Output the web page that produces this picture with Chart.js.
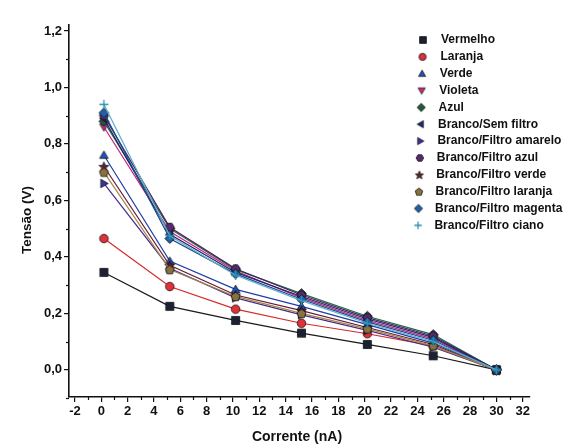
<!DOCTYPE html>
<html>
<head>
<meta charset="utf-8">
<script src="https://cdn.jsdelivr.net/npm/chart.js@4.4.0/dist/chart.umd.min.js"></script>
<style>
html,body{margin:0;padding:0;background:#fff;}
#wrap{width:580px;height:447px;position:relative;}
</style>
</head>
<body>
<div id="wrap"><canvas id="c" width="580" height="447"></canvas></div>
<script>
// ---- data ----
const correntes = [0.2, 5.2, 10.2, 15.2, 20.2, 25.2, 30.0];
const seriesNames = ["Vermelho","Laranja","Verde","Violeta","Azul","Branco/Sem filtro","Branco/Filtro amarelo","Branco/Filtro azul","Branco/Filtro verde","Branco/Filtro laranja","Branco/Filtro magenta","Branco/Filtro ciano"];
const vermelho      = [0.345, 0.225, 0.175, 0.130, 0.090, 0.050, 0.0];
const laranja       = [0.465, 0.295, 0.215, 0.165, 0.128, 0.085, 0.0];
const verde         = [0.760, 0.385, 0.285, 0.225, 0.160, 0.095, 0.0];
const violeta       = [0.860, 0.490, 0.350, 0.255, 0.175, 0.110, 0.0];
const azul          = [0.880, 0.500, 0.355, 0.270, 0.190, 0.125, 0.0];
const brancoSem     = [0.890, 0.480, 0.345, 0.260, 0.180, 0.115, 0.0];
const filtroAmarelo = [0.660, 0.360, 0.255, 0.195, 0.140, 0.080, 0.0];
const filtroAzul    = [0.900, 0.505, 0.358, 0.265, 0.185, 0.120, 0.0];
const filtroVerde   = [0.720, 0.370, 0.265, 0.210, 0.150, 0.090, 0.0];
const filtroLaranja = [0.700, 0.355, 0.260, 0.200, 0.145, 0.085, 0.0];
const filtroMagenta = [0.910, 0.465, 0.340, 0.250, 0.170, 0.105, 0.0];
const filtroCiano   = [0.940, 0.475, 0.335, 0.245, 0.165, 0.100, 0.0];
const seriesValues = [vermelho, laranja, verde, violeta, azul, brancoSem, filtroAmarelo, filtroAzul, filtroVerde, filtroLaranja, filtroMagenta, filtroCiano];
const xTicks = [-2,0,2,4,6,8,10,12,14,16,18,20,22,24,26,28,30,32];
const yTicks = [0.0,0.2,0.4,0.6,0.8,1.0,1.2];

// ---- styles ----
const lineColors = ['#1a1a1a','#d42a2a','#1f3fa8','#c8207a','#1d6b40','#1a2470','#4a2a90','#4a2060','#6a1a30','#a08848','#1a4a90','#60b0cc'];
const fillColors = ['#1c2033','#e0303a','#2050c0','#d02a80','#1f5a3a','#1a2a70','#3a30a0','#5a2a70','#6a2030','#8a7040','#2060a8','#3090b0'];
const shapes = ['square','circle','triUp','triDown','diamond','triLeft','triRight','hexagon','star','pentagon','diamond','plus'];

function poly(ctx, cx, cy, r, n, rot){
  ctx.beginPath();
  for(let i=0;i<n;i++){
    const a = rot + i*2*Math.PI/n;
    const px = cx + r*Math.cos(a), py = cy + r*Math.sin(a);
    if(i===0) ctx.moveTo(px,py); else ctx.lineTo(px,py);
  }
  ctx.closePath();
}
function makeMarker(shape, fill, size){
  const s = Math.ceil(size)+4;
  const cv = document.createElement('canvas');
  cv.width = s; cv.height = s;
  const ctx = cv.getContext('2d');
  const c = s/2, r = size/2;
  ctx.fillStyle = fill; ctx.strokeStyle = '#111'; ctx.lineWidth = 0.8;
  switch(shape){
    case 'square': ctx.beginPath(); ctx.rect(c-r*0.9,c-r*0.9,r*1.8,r*1.8); break;
    case 'circle': ctx.beginPath(); ctx.arc(c,c,r*0.95,0,Math.PI*2); break;
    case 'triUp': poly(ctx,c,c+r*0.15,r*1.1,3,-Math.PI/2); break;
    case 'triDown': poly(ctx,c,c-r*0.15,r*1.1,3,Math.PI/2); break;
    case 'triLeft': poly(ctx,c+r*0.15,c,r*1.1,3,Math.PI); break;
    case 'triRight': poly(ctx,c-r*0.15,c,r*1.1,3,0); break;
    case 'diamond': poly(ctx,c,c,r*1.1,4,-Math.PI/2); break;
    case 'hexagon': poly(ctx,c,c,r,6,0); break;
    case 'pentagon': poly(ctx,c,c+r*0.1,r*1.05,5,-Math.PI/2); break;
    case 'star': {
      ctx.beginPath();
      for(let i=0;i<10;i++){
        const a = -Math.PI/2 + i*Math.PI/5;
        const rr = i%2===0 ? r*1.15 : r*0.48;
        const px = c + rr*Math.cos(a), py = c + 0.5 + rr*Math.sin(a);
        if(i===0) ctx.moveTo(px,py); else ctx.lineTo(px,py);
      }
      ctx.closePath(); break;
    }
    case 'plus':
      ctx.strokeStyle = fill; ctx.lineWidth = 1.3;
      ctx.beginPath(); ctx.moveTo(c-r,c); ctx.lineTo(c+r,c); ctx.moveTo(c,c-r); ctx.lineTo(c,c+r); ctx.stroke();
      return cv;
  }
  ctx.fill(); ctx.stroke();
  return cv;
}
const plotMarkers = shapes.map((s,i)=>makeMarker(s, fillColors[i], 9));
const legendMarkers = shapes.map((s,i)=>makeMarker(s, fillColors[i], 7.5));

const datasets = seriesNames.map((name,i)=>({
  label: name,
  data: correntes.map((x,j)=>({x:x, y:seriesValues[i][j]})),
  borderColor: lineColors[i],
  backgroundColor: fillColors[i],
  borderWidth: 1.2,
  pointStyle: plotMarkers[i],
  pointRadius: 4.5,
  order: seriesNames.length - i,
  tension: 0
}));

const FONT = "'Liberation Sans', Arial, sans-serif";

const decoPlugin = {
  id: 'deco',
  afterDraw(chart){
    const ctx = chart.ctx;
    const xs = chart.scales.x, ys = chart.scales.y;
    ctx.save();
    ctx.strokeStyle = '#111'; ctx.lineWidth = 1.2;
    const yMinor = [-0.1,0.1,0.3,0.5,0.7,0.9,1.1];
    yMinor.forEach(v=>{
      const y = Math.round(ys.getPixelForValue(v))+0.5;
      ctx.beginPath(); ctx.moveTo(xs.left-3,y); ctx.lineTo(xs.left,y); ctx.stroke();
    });
    for(let v=-1; v<=31; v+=2){
      const x = Math.round(xs.getPixelForValue(v))+0.5;
      ctx.beginPath(); ctx.moveTo(x,ys.bottom); ctx.lineTo(x,ys.bottom+3); ctx.stroke();
    }
    // axis titles
    ctx.fillStyle = '#111';
    ctx.font = "bold 14px " + FONT;
    ctx.textAlign = 'center'; ctx.textBaseline = 'middle';
    ctx.fillText('Corrente (nA)', 297, 437);
    ctx.save();
    ctx.translate(27, 220); ctx.rotate(-Math.PI/2);
    ctx.font = "bold 13.5px " + FONT;
    ctx.fillText('Tensão (V)', 0, 0);
    ctx.restore();
    // legend
    ctx.font = "bold 12px " + FONT;
    ctx.textAlign = 'left'; ctx.textBaseline = 'middle';
    chart.data.datasets.forEach((ds,i)=>{
      const y = 40 + i*16.85;
      const mx = 423 - i*0.45;
      const tx = 441 - i*0.6;
      const m = legendMarkers[i];
      ctx.drawImage(m, mx - m.width/2, y - m.height/2);
      ctx.fillStyle = '#111';
      ctx.fillText(ds.label, tx, y);
    });
    ctx.restore();
  }
};

new Chart(document.getElementById('c'), {
  type: 'line',
  data: { datasets },
  options: {
    responsive: false,
    animation: false,
    events: [],
    layout: { padding: { top: 25, right: 50, left: 0, bottom: 0 } },
    plugins: { legend: { display: false }, tooltip: { enabled: false } },
    scales: {
      x: {
        type: 'linear',
        min: -2.45, max: 32.55,
        afterFit(s){ s.height = 50; },
        afterBuildTicks(s){ s.ticks = xTicks.map(v=>({value:v})); },
        grid: { drawOnChartArea: false, drawTicks: true, tickLength: 5, color: '#111', lineWidth: 1.2 },
        border: { display: true, color: '#111', width: 1.6 },
        ticks: { color: '#111', font: { family: FONT, size: 13, weight: 'bold' }, padding: 2, maxRotation: 0, autoSkip: false, callback: v => String(v) }
      },
      y: {
        type: 'linear',
        min: -0.096, max: 1.221,
        afterFit(s){ s.width = 69; },
        afterBuildTicks(s){ s.ticks = yTicks.map(v=>({value:v})); },
        grid: { drawOnChartArea: false, drawTicks: true, tickLength: 5, color: '#111', lineWidth: 1.2 },
        border: { display: true, color: '#111', width: 1.6 },
        ticks: { color: '#111', font: { family: FONT, size: 13, weight: 'bold' }, padding: 2, autoSkip: false, callback: v => v.toFixed(1).replace('.', ',') }
      }
    }
  },
  plugins: [decoPlugin]
});
</script>
</body>
</html>
